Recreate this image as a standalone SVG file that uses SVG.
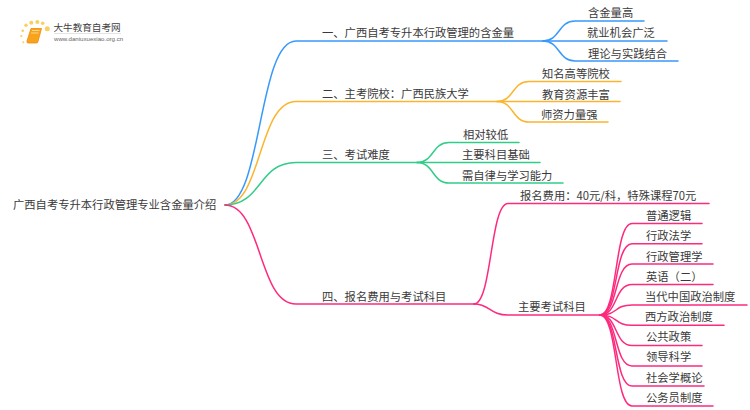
<svg xmlns="http://www.w3.org/2000/svg" width="750" height="410" viewBox="0 0 750 410">
<style>
text{font-family:"Noto Sans CJK SC","Liberation Sans",sans-serif;font-size:11.3px;fill:#3a3a3a}
.c{fill:none;stroke-width:1.5;stroke-linecap:round}
.b{stroke:#3799fc}.o{stroke:#fbb52c}.g{stroke:#30cd88}.p{stroke:#fd2a7e}
.logo1{font-size:9.6px;fill:#3f3f3f}
.logo2{font-family:"Liberation Sans",sans-serif;font-size:6.1px;fill:#666}
.d{fill:#fbce62}
</style>
<rect width="750" height="410" fill="#fff"/>
<g id="logo">
<circle class="d" cx="47.300" cy="28.700" r="2.500"/><circle class="d" cx="42.700" cy="23.300" r="1.800"/><circle class="d" cx="37.300" cy="22" r="2"/><circle class="d" cx="31.300" cy="22.700" r="2"/><circle class="d" cx="26" cy="25.300" r="1.700"/><circle class="d" cx="22.700" cy="30.700" r="1.300"/><circle class="d" cx="21.300" cy="36" r="1.100"/><circle class="d" cx="23.300" cy="42.300" r="1"/>
<path d="M31 28.500H41.500L38 41.500Q38 43 36 43H28Q26.500 43 27 41Z" fill="#f8a31c" stroke="#ee8a10" stroke-width="0.800"/>
<path d="M32 30.500H39.500M31 33H38.500" stroke="#ffdc92" stroke-width="0.900" fill="none"/>
<text class="logo1" x="53.500" y="31">大牛教育自考网</text>
<path d="M54 33.500H121" stroke="#d8d8d8" stroke-width="0.700" fill="none"/>
<text class="logo2" x="54" y="41">www.daniuxuexiao.org.cn</text>
</g>
<g id="connectors">
<path class="c b" d="M225 205C262 205 258 41 296 41H543"/>
<path class="c o" d="M225 205C262 205 258 101.500 296 101.500H497"/>
<path class="c g" d="M225 205C262 205 258 162.500 296 162.500H417"/>
<path class="c p" d="M225 205C262 205 258 304 296 304H474"/>
<path class="c b" d="M543 41C560 41 558 21 575 21H644"/>
<path class="c b" d="M543 41H667"/>
<path class="c b" d="M543 41C560 41 558 61 575 61H678"/>
<path class="c o" d="M497 101.500C514 101.500 512 81.500 529 81.500H621"/>
<path class="c o" d="M497 101.500H620"/>
<path class="c o" d="M497 101.500C514 101.500 512 122 529 122H608"/>
<path class="c g" d="M417 162.500C434 162.500 432 142.500 449 142.500H519"/>
<path class="c g" d="M417 162.500H540"/>
<path class="c g" d="M417 162.500C434 162.500 432 183 449 183H563"/>
<path class="c p" d="M474 304C492 304 490 203.500 508 203.500H709"/>
<path class="c p" d="M474 304C490 304 490 315 508 315H600"/>
<path class="c p" d="M600 315C618 315 614 223.500 632 223.500H702"/>
<path class="c p" d="M600 315C618 315 614 243.700 632 243.700H702"/>
<path class="c p" d="M600 315C618 315 614 264 632 264H713"/>
<path class="c p" d="M600 315C618 315 614 284.500 632 284.500H713"/>
<path class="c p" d="M600 315C618 315 614 305 632 305H747"/>
<path class="c p" d="M600 315C618 315 614 325.300 632 325.300H724"/>
<path class="c p" d="M600 315C618 315 614 345.500 632 345.500H702"/>
<path class="c p" d="M600 315C618 315 614 366 632 366H702"/>
<path class="c p" d="M600 315C618 315 614 386 632 386H704"/>
<path class="c p" d="M600 315C618 315 614 406 632 406H713"/>
</g>
<g id="root"><text x="13" y="209">广西自考专升本行政管理专业含金量介绍</text></g>
<g id="n1"><text x="322" y="37">一、广西自考专升本行政管理的含金量</text></g>
<g id="n1-1"><text x="588" y="17">含金量高</text></g>
<g id="n1-2"><text x="587" y="37">就业机会广泛</text></g>
<g id="n1-3"><text x="588" y="57.500">理论与实践结合</text></g>
<g id="n2"><text x="322" y="98">二、主考院校：广西民族大学</text></g>
<g id="n2-1"><text x="542" y="78">知名高等院校</text></g>
<g id="n2-2"><text x="542" y="98.500">教育资源丰富</text></g>
<g id="n2-3"><text x="541" y="118.500">师资力量强</text></g>
<g id="n3"><text x="322" y="159">三、考试难度</text></g>
<g id="n3-1"><text x="463" y="139">相对较低</text></g>
<g id="n3-2"><text x="462" y="159">主要科目基础</text></g>
<g id="n3-3"><text x="462" y="179.500">需自律与学习能力</text></g>
<g id="n4"><text x="322" y="301">四、报名费用与考试科目</text></g>
<g id="n4-1"><text x="520" y="199.500">报名费用：40元/科，特殊课程70元</text></g>
<g id="n4-2"><text x="518" y="311">主要考试科目</text></g>
<g id="s1"><text x="646" y="220">普通逻辑</text></g>
<g id="s2"><text x="646" y="240">行政法学</text></g>
<g id="s3"><text x="646" y="261">行政管理学</text></g>
<g id="s4"><text x="646" y="281">英语（二）</text></g>
<g id="s5"><text x="645" y="301">当代中国政治制度</text></g>
<g id="s6"><text x="645" y="321">西方政治制度</text></g>
<g id="s7"><text x="646" y="341">公共政策</text></g>
<g id="s8"><text x="646" y="361">领导科学</text></g>
<g id="s9"><text x="646" y="382">社会学概论</text></g>
<g id="s10"><text x="646" y="402">公务员制度</text></g>
</svg>
